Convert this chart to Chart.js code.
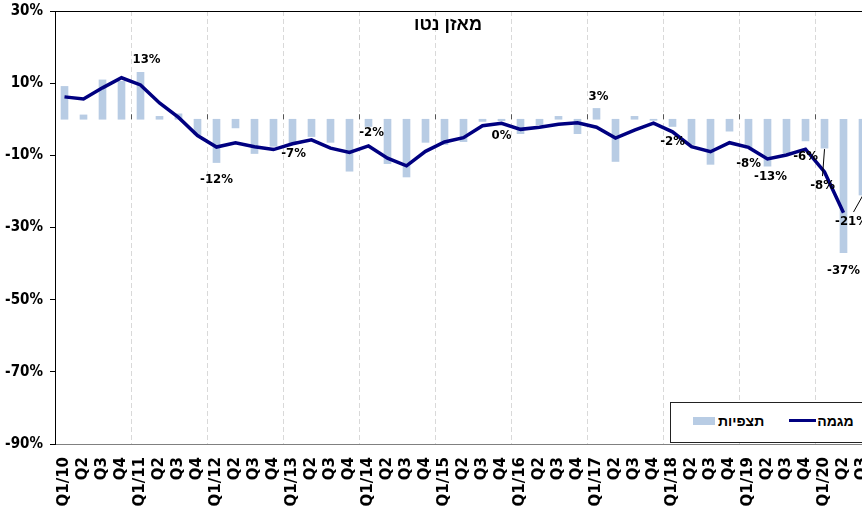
<!DOCTYPE html>
<html lang="he">
<head>
<meta charset="utf-8">
<script src="https://cdn.jsdelivr.net/npm/chart.js@4.4.1/dist/chart.umd.min.js"></script>
<style>
  html, body { margin: 0; padding: 0; background: #fff; overflow: hidden; }
  #marco { position: relative; width: 872px; height: 511px; }
  canvas { display: block; }
  #titulo {
    position: absolute; left: 348px; top: 13px; width: 200px; text-align: center;
    font: bold 18px 'Liberation Sans', Arial, 'DejaVu Sans', sans-serif; line-height: 22px;
    direction: rtl;
  }
  #leyenda {
    position: absolute; left: 670px; top: 402px; width: 230px; height: 41px;
    box-sizing: border-box; border: 1px solid #222; background: #fff;
    display: flex; align-items: center; padding: 0 0 4px 22px; direction: ltr;
    font: bold 14px 'Liberation Sans', Arial, 'DejaVu Sans', sans-serif;
  }
  #leyenda .item { display: flex; align-items: center; margin-right: 25px; }
  #leyenda .txt { direction: rtl; }
</style>
</head>
<body>
<div id="marco">
  <canvas id="grafico" width="872" height="511"></canvas>
  <div id="titulo"></div>
  <div id="leyenda"></div>
</div>
<script>
const titulo = 'מאזן נטו';

const trimestres = [
  'Q1/10', 'Q2', 'Q3', 'Q4', 'Q1/11', 'Q2', 'Q3', 'Q4', 'Q1/12', 'Q2', 'Q3', 'Q4',
  'Q1/13', 'Q2', 'Q3', 'Q4', 'Q1/14', 'Q2', 'Q3', 'Q4', 'Q1/15', 'Q2', 'Q3', 'Q4',
  'Q1/16', 'Q2', 'Q3', 'Q4', 'Q1/17', 'Q2', 'Q3', 'Q4', 'Q1/18', 'Q2', 'Q3', 'Q4',
  'Q1/19', 'Q2', 'Q3', 'Q4', 'Q1/20', 'Q2', 'Q3'
];

// observaciones (barras) y tendencia (linea), en %
const tatzpiyot = [
  9.1, 1.2, 10.9, 10.5, 13, 0.8, 1.5, -4.3, -12, -2.4, -9.5, -7.5,
  -7, -4.8, -6.4, -14.4, -2, -12.3, -16, -6.4, -7, -6.2, -0.6, -0.4,
  -4, -1.5, 0.8, -4, 3, -11.7, 0.8, -0.3, -2, -7, -12.5, -3.3,
  -8, -13, -9.4, -6, -8, -37, -21
];
const megama = [
  6.2, 5.6, 8.7, 11.5, 9.5, 4.5, 0.5, -4.5, -7.7, -6.5, -7.6, -8.4,
  -6.8, -5.7, -8, -9.2, -7.4, -10.8, -12.9, -8.9, -6.3, -5.1, -1.8, -1.1,
  -2.8, -2.2, -1.4, -1.0, -2.2, -5.2, -3, -1.1, -3.5, -7.6, -9, -6.5,
  -7.8, -11, -9.9, -8.3, -14.6, -25.9, null
];

const ticksY = [30, 10, -10, -30, -50, -70, -90];

// trimestres con etiqueta de valor
const conEtiqueta = [4, 8, 12, 16, 23, 28, 32, 36, 37, 39, 40, 41, 42];

// desplazamiento de cada etiqueta respecto al extremo de la barra
const posEtiqueta = {
  4: [6, -13], 8: [0, 17], 12: [1, 9], 16: [3, 6], 23: [0, 15], 28: [2, -12],
  32: [0, 15], 36: [0, 16], 37: [3, 10], 39: [0, 16], 40: [-2, 38, true],
  41: [0, 18], 42: [-11, 27, true]
};

const FUENTE = "'DejaVu Sans', Verdana, sans-serif";

const extras = {
  id: 'extras',
  afterDatasetsDraw(chart) {
    const { ctx } = chart;
    const x = chart.scales.x, y = chart.scales.y;
    const y0 = y.getPixelForValue(0);

    // marcas pequenas sobre el eje cero
    ctx.save();
    ctx.strokeStyle = '#555';
    ctx.lineWidth = 1;
    for (let i = 4; i < trimestres.length; i += 4) {
      const px = Math.round((x.getPixelForValue(i - 1) + x.getPixelForValue(i)) / 2) + 0.5;
      ctx.beginPath();
      ctx.moveTo(px, y0 - 5);
      ctx.lineTo(px, y0);
      ctx.stroke();
    }
    ctx.restore();

    // etiquetas de valores
    ctx.save();
    ctx.font = "bold 13px 'DejaVu Sans Condensed', " + FUENTE;
    ctx.fillStyle = '#000';
    ctx.textAlign = 'center';
    ctx.textBaseline = 'middle';
    conEtiqueta.forEach(i => {
      const v = tatzpiyot[i];
      const bx = x.getPixelForValue(i);
      const by = y.getPixelForValue(v);
      const [dx, dy, guia] = posEtiqueta[i];
      const tx = bx + dx, ty = by + dy;
      if (guia) {
        ctx.save();
        ctx.strokeStyle = '#000';
        ctx.lineWidth = 1;
        ctx.beginPath();
        ctx.moveTo(bx, by + 1);
        ctx.lineTo(tx + (dx < -5 ? 2 : 0), ty - 10);
        ctx.stroke();
        ctx.restore();
      }
      ctx.fillText(Math.round(v) + '%', tx, ty);
    });
    ctx.restore();
  }
};

const chart = new Chart(document.getElementById('grafico'), {
  type: 'bar',
  data: {
    labels: trimestres,
    datasets: [
      {
        type: 'line',
        label: 'מגמה',
        data: megama,
        borderColor: '#000080',
        backgroundColor: '#000080',
        borderWidth: 3.5,
        pointRadius: 0,
        tension: 0,
        order: 1
      },
      {
        label: 'תצפיות',
        data: tatzpiyot,
        backgroundColor: 'rgb(184,204,228)',
        barThickness: 7,
        order: 2
      }
    ]
  },
  options: {
    responsive: false,
    animation: false,
    devicePixelRatio: 1,
    layout: { padding: { top: 11, right: 0, bottom: 0, left: 0 } },
    plugins: {
      legend: { display: false },
      title: { display: false },
      tooltip: { enabled: false }
    },
    scales: {
      x: {
        offset: true,
        grid: {
          offset: true,
          drawTicks: false,
          color: c => (c.index % 4 === 0 && c.index > 0) ? '#d9d9d9' : 'transparent',
          lineWidth: 1
        },
        border: { display: true, color: '#808080', width: 1, dash: [5, 3] },
        ticks: {
          autoSkip: false,
          minRotation: 90,
          maxRotation: 90,
          padding: 13,
          color: '#000',
          font: { family: FUENTE, size: 15, weight: 'bold' }
        },
        afterFit: s => { s.height = 67; s.paddingLeft = 0; s.paddingRight = 0; }
      },
      y: {
        min: -90,
        max: 30,
        afterBuildTicks: s => { s.ticks = ticksY.map(v => ({ value: v })); },
        grid: {
          drawTicks: true,
          tickLength: 5,
          tickColor: '#000',
          color: c => c.tick && c.tick.value === 0 ? '#808080'
                    : (c.tick && c.tick.value === 30 ? '#000' : 'transparent'),
          lineWidth: c => c.tick && c.tick.value === 0 ? 1.5 : 1
        },
        border: { display: true, color: '#000', width: 1 },
        ticks: {
          padding: 7,
          color: '#000',
          font: { family: "'DejaVu Sans Condensed', " + FUENTE, size: 15, weight: 'bold' },
          callback: v => v + '%'
        },
        afterFit: s => { s.width = 55; s.paddingTop = 0; s.paddingBottom = 0; }
      }
    }
  },
  plugins: [extras]
});

// titulo y leyenda como texto HTML (bidi correcto)
document.getElementById('titulo').textContent = titulo;

const leyenda = document.getElementById('leyenda');
const barras = chart.data.datasets[1], linea = chart.data.datasets[0];
[
  { ds: barras, muestra: `width:22px;height:8px;background:${barras.backgroundColor};margin-right:3px` },
  { ds: linea, muestra: `width:27px;height:3px;background:${linea.borderColor};margin-right:1px` }
].forEach(({ ds, muestra }) => {
  const item = document.createElement('div');
  item.className = 'item';
  const m = document.createElement('span');
  m.style.cssText = 'display:inline-block;' + muestra;
  const t = document.createElement('span');
  t.className = 'txt';
  t.textContent = ds.label;
  item.appendChild(m);
  item.appendChild(t);
  leyenda.appendChild(item);
});
</script>
</body>
</html>
